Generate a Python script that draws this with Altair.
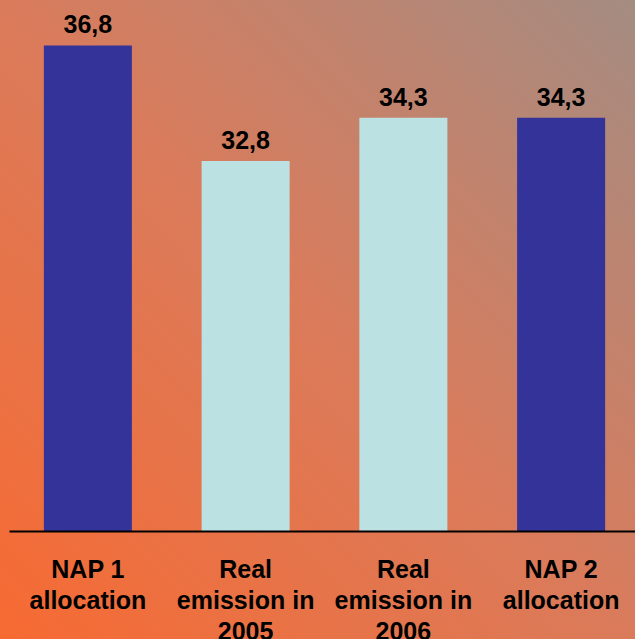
import altair as alt
import pandas as pd

categories = ["NAP 1|allocation", "Real|emission in|2005", "Real|emission in|2006", "NAP 2|allocation"]
values = [36.8, 32.8, 34.3, 34.3]
labels = ["36,8", "32,8", "34,3", "34,3"]
kinds = ["nap", "real", "real", "nap"]
axis_min = 20

df = pd.DataFrame({"cat": categories, "value": values, "label": labels, "kind": kinds,
                   "base": [axis_min] * len(values)})

W, H = 635, 639
yscale = alt.Scale(domain=[16.263, 38.374], range=[H, 0], nice=False, zero=False)
xscale = alt.Scale(domain=categories, range=[9, 640], paddingInner=0.442, paddingOuter=0.221)

gradient = alt.LinearGradient(
    gradient="linear", x1=0, y1=1, x2=1, y2=0,
    stops=[alt.GradientStop(color="#F76A32", offset=0),
           alt.GradientStop(color="#DA7B5B", offset=0.5),
           alt.GradientStop(color="#A48C82", offset=1)])

bg = alt.Chart(pd.DataFrame({"a": [0]})).mark_rect(color=gradient).encode(
    x=alt.value(0), x2=alt.value("width"), y=alt.value(0), y2=alt.value("height"))

base = alt.Chart(df)

bars = base.mark_bar().encode(
    x=alt.X("cat:N", scale=xscale, sort=categories,
            axis=alt.Axis(title=None, labelAngle=0, ticks=False, domain=True,
                          domainColor="black", domainWidth=2, offset=-108, zindex=2,
                          labelExpr="split(datum.label, '|')",
                          labelFont="Liberation Sans", labelFontSize=25,
                          labelFontWeight="bold", labelColor="black",
                          labelLineHeight=31, labelPadding=26, labelBaseline="top")),
    y=alt.Y("value:Q", scale=yscale, axis=None),
    y2="base:Q",
    color=alt.Color("kind:N", scale=alt.Scale(domain=["nap", "real"], range=["#333399", "#BCE1E3"]),
                    legend=None),
)

text = base.mark_text(font="Liberation Sans", fontSize=25, fontWeight="bold", color="black",
                      baseline="alphabetic", dy=-12).encode(
    x=alt.X("cat:N", scale=xscale, sort=categories),
    y=alt.Y("value:Q", scale=yscale),
    text="label:N",
)

chart = alt.layer(bg, bars, text).properties(
    width=W, height=H, padding=0, autosize=alt.AutoSizeParams(type="none")
).configure_view(stroke=None)

chart.save("out.html", embed_options={"renderer": "svg", "actions": False})
